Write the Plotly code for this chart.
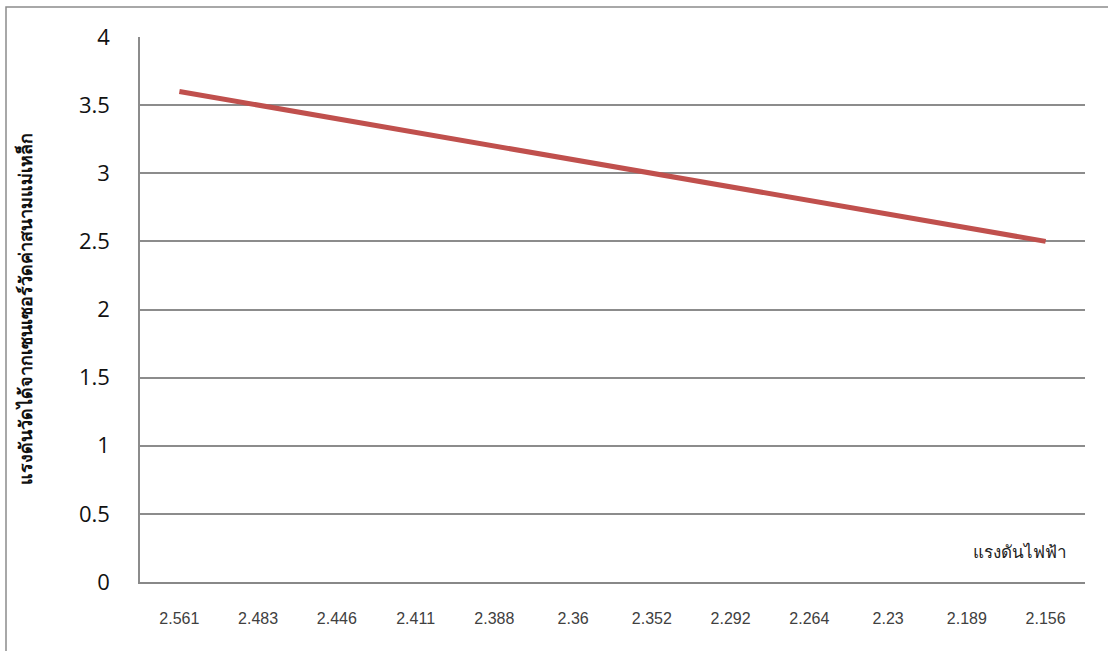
import plotly.graph_objects as go

# Voltage readings (category axis) and the sensor-measured field values
voltage_labels = ["2.561", "2.483", "2.446", "2.411", "2.388", "2.36",
                  "2.352", "2.292", "2.264", "2.23", "2.189", "2.156"]
measured_values = [3.6, 3.5, 3.4, 3.3, 3.2, 3.1, 3.0, 2.9, 2.8, 2.7, 2.6, 2.5]
y_ticks = [0, 0.5, 1, 1.5, 2, 2.5, 3, 3.5, 4]

fig = go.Figure()
fig.add_trace(go.Scatter(
    x=list(range(len(voltage_labels))),
    y=measured_values,
    mode="lines",
    line=dict(color="#C0504D", width=5),
    showlegend=False,
    hoverinfo="skip",
))

fig.update_layout(
    width=1108, height=651,
    margin=dict(l=140, r=23, t=37, b=69),
    paper_bgcolor="white",
    plot_bgcolor="white",
    font=dict(family="Open Sans, Noto Sans, sans-serif"),
    xaxis=dict(
        tickmode="array",
        tickvals=list(range(len(voltage_labels))),
        ticktext=voltage_labels,
        range=[-0.5, len(voltage_labels) - 0.5],
        showgrid=False,
        zeroline=False,
        showline=True,
        linecolor="#888888",
        linewidth=1.5,
        ticks="",
        ticklabelstandoff=21,
        tickfont=dict(family="Liberation Sans, Arial, sans-serif", size=16, color="#404040"),
    ),
    yaxis=dict(
        tickmode="array",
        tickvals=y_ticks,
        ticktext=[f"{v:g}" for v in y_ticks],
        range=[0, 4],
        showgrid=True,
        gridcolor="#8c8c8c",
        gridwidth=1.5,
        zeroline=False,
        showline=True,
        linecolor="#8c8c8c",
        linewidth=1.5,
        ticks="",
        ticklabelstandoff=24,
        tickfont=dict(family="Open Sans, Noto Sans, sans-serif", size=22, color="#111111"),
        title=dict(
            text="<b>แรงดันวัดได้จากเซนเซอร์วัดค่าสนามแม่เหล็ก</b>",
            font=dict(size=18, color="#111111"),
            standoff=42,
        ),
    ),
    shapes=[
        dict(type="rect", xref="paper", yref="paper",
             x0=-134 / 945, x1=1.05, y0=-0.2, y1=575 / 545,
             line=dict(color="#8c8c8c", width=1.5), fillcolor="rgba(0,0,0,0)",
             layer="below"),
    ],
    annotations=[
        dict(text="แรงดันไฟฟ้า", xref="paper", yref="paper",
             x=880 / 945, y=31 / 545, xanchor="center", yanchor="middle",
             showarrow=False, font=dict(size=17, color="#222222")),
    ],
)

fig.write_html("out.html")
